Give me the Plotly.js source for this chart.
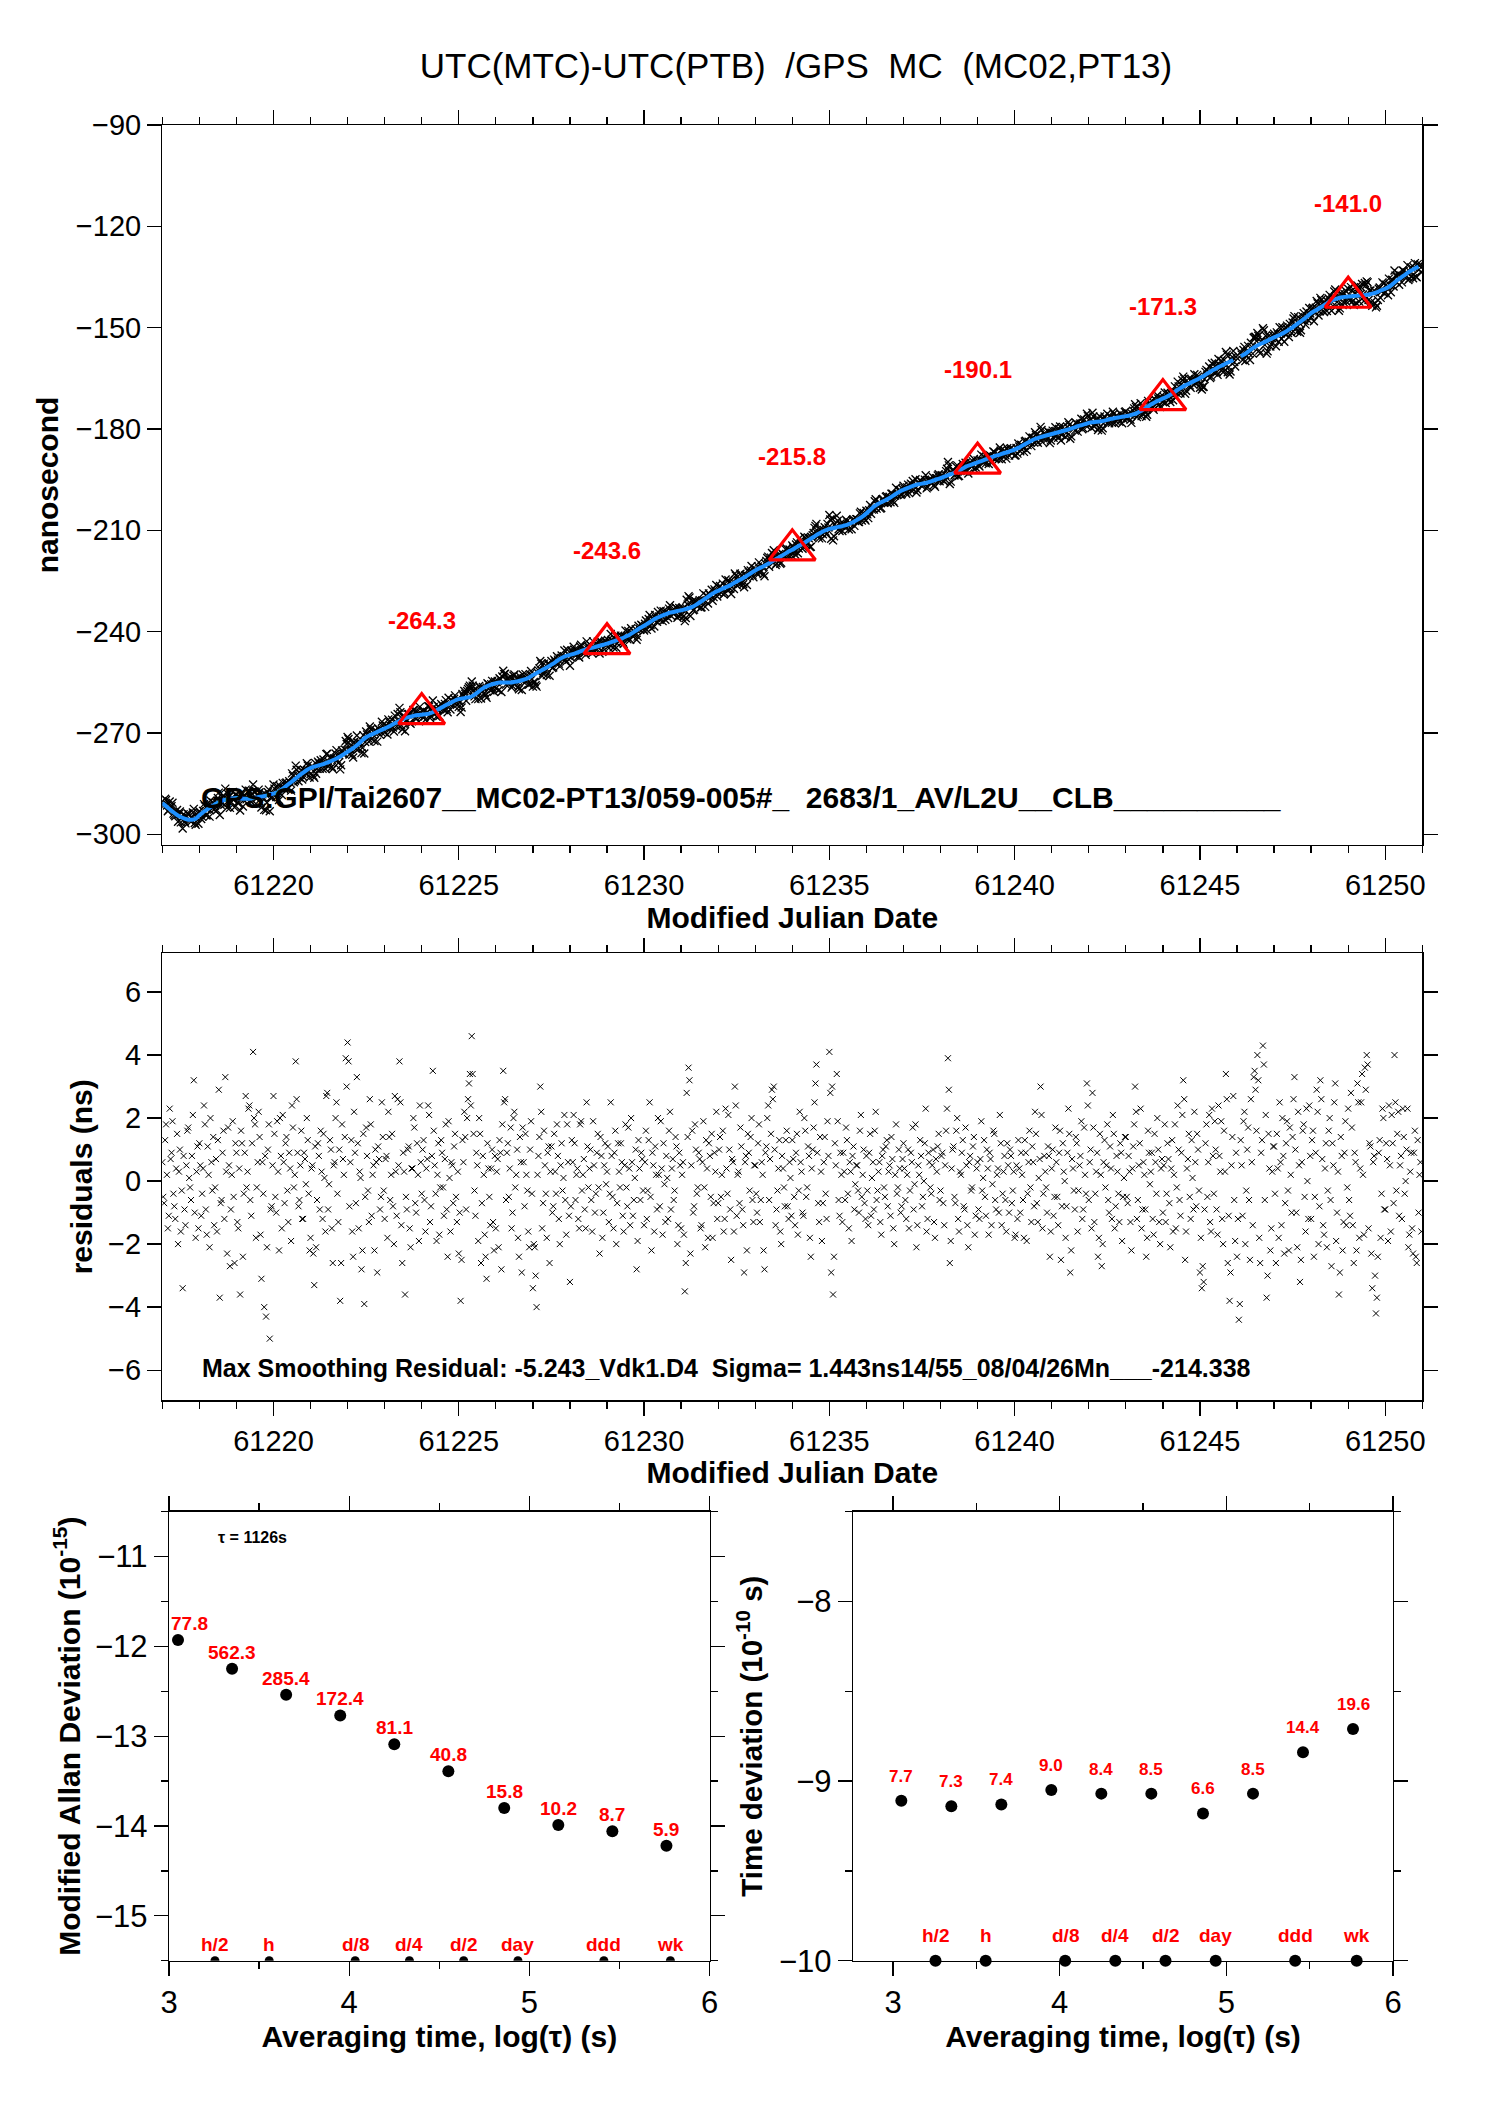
<!DOCTYPE html>
<html><head><meta charset="utf-8">
<script src="https://cdn.plot.ly/plotly-3.0.1.min.js"></script>
<style>html,body{margin:0;padding:0;background:#fff}#chart{width:1488px;height:2105px}</style>
</head><body><div id="chart"></div>
<script>
// ---------- data ----------
const MJD_START = 61217.0;     // first sample (MJD)
const SMOOTH_STEP = 0.1;       // spacing of the smoothed-curve samples (days)
const RESID_STEP = 0.05;       // spacing of the residual samples (days)

// smoothed UTC(MTC)-UTC(PTB) curve (ns), one row per day, 61217.0 .. 61250.9
const smoothNs = [
-290.8,-291.7,-292.6,-293.5,-294.3,-294.9,-295.4,-295.7,-295.7,-295.4,
-294.4,-293.5,-292.7,-292.0,-291.3,-290.6,-290.1,-289.8,-289.5,-289.4,
-289.3,-289.4,-289.5,-289.5,-289.4,-289.2,-289.0,-288.8,-288.6,-288.2,
-288.0,-287.7,-286.9,-286.1,-285.2,-284.4,-283.5,-282.6,-281.8,-281.0,
-280.4,-280.0,-279.7,-279.4,-279.0,-278.6,-278.1,-277.6,-277.0,-276.3,
-275.6,-274.9,-274.1,-273.2,-272.2,-271.3,-270.7,-270.2,-269.7,-269.2,
-268.7,-268.2,-267.6,-267.0,-266.4,-265.9,-265.5,-265.2,-264.9,-264.7,
-264.6,-264.5,-264.3,-263.9,-263.3,-262.7,-262.1,-261.5,-261.0,-260.4,
-260.0,-259.8,-259.6,-259.4,-258.9,-258.1,-257.2,-256.5,-256.0,-255.6,
-255.3,-255.1,-255.1,-255.1,-255.1,-254.9,-254.7,-254.4,-254.1,-253.6,
-252.9,-252.3,-251.7,-251.1,-250.5,-249.8,-249.1,-248.3,-247.7,-247.2,
-246.9,-246.6,-246.2,-245.8,-245.4,-245.0,-244.8,-244.5,-244.2,-243.9,
-243.6,-243.2,-242.8,-242.4,-242.0,-241.5,-241.0,-240.3,-239.6,-238.9,
-238.3,-237.6,-236.9,-236.2,-235.7,-235.2,-234.8,-234.4,-234.2,-233.9,
-233.7,-233.4,-233.1,-232.7,-232.1,-231.4,-230.6,-229.9,-229.1,-228.4,
-227.9,-227.4,-226.9,-226.4,-225.8,-225.2,-224.6,-224.0,-223.3,-222.6,
-221.9,-221.3,-220.8,-220.2,-219.6,-218.9,-218.3,-217.6,-217.0,-216.3,
-215.8,-215.1,-214.5,-213.9,-213.2,-212.5,-211.8,-211.1,-210.5,-210.0,
-209.6,-209.4,-209.1,-208.9,-208.6,-208.3,-207.8,-207.2,-206.6,-205.9,
-205.0,-204.0,-203.0,-202.3,-201.7,-201.2,-200.6,-199.9,-199.2,-198.5,
-198.0,-197.5,-197.1,-196.7,-196.4,-196.2,-196.0,-195.7,-195.3,-194.9,
-194.6,-194.1,-193.7,-193.3,-192.8,-192.3,-191.7,-191.1,-190.7,-190.3,
-189.9,-189.5,-189.1,-188.7,-188.3,-187.9,-187.6,-187.2,-186.9,-186.5,
-186.1,-185.6,-185.0,-184.4,-183.8,-183.2,-182.8,-182.4,-182.1,-181.8,
-181.5,-181.2,-180.9,-180.6,-180.3,-180.0,-179.6,-179.2,-178.9,-178.6,
-178.2,-178.0,-177.9,-177.8,-177.6,-177.3,-177.0,-176.8,-176.6,-176.4,
-176.2,-176.0,-175.7,-175.3,-174.7,-174.0,-173.3,-172.6,-172.0,-171.5,
-171.0,-170.5,-169.9,-169.2,-168.4,-167.7,-167.1,-166.6,-166.0,-165.5,
-164.9,-164.3,-163.6,-162.9,-162.3,-161.7,-161.2,-160.6,-160.1,-159.6,
null,-158.5,-157.9,-157.1,-156.3,-155.6,-155.0,-154.5,-154.0,-153.4,
-152.9,-152.4,-151.9,-151.3,-150.6,-149.9,-149.1,-148.3,-147.5,-146.6,
-145.7,-145.0,-144.4,-143.7,-143.0,-142.3,-141.8,-141.4,-141.1,-140.9,
-140.8,-140.7,-140.6,-140.5,-140.4,-140.3,-140.1,-139.8,-139.4,-138.9,
-138.5,-137.9,-137.1,-136.2,-135.4,-134.6,-133.8,-133.1,-132.5,-131.9
];

// residuals after smoothing (ns) at 61217.00, 61217.05 .. 61250.95 (one row per day)
const residNs = [
0.6,-0.7,1.8,-1.5,2.3,0.9,-0.4,-1.2,1.5,0.3,-1.6,-3.4,-0.9,0.5,1.7,-0.2,0.8,3.2,-1.8,1.1,
1.2,-1.1,0.4,1.8,-1.7,0.2,2.0,-0.3,-1.4,0.7,1.3,-3.7,-0.6,1.6,3.3,-2.3,0.5,-0.9,1.9,-2.6,
0.9,-1.5,-3.6,1.2,-0.4,2.7,0.3,2.4,-1.1,4.1,1.8,-0.2,2.2,-1.7,0.6,-4.0,-4.3,1.0,-5.0,-0.8,
2.7,-0.5,1.9,-2.2,0.8,2.1,-0.7,1.4,-1.3,0.4,2.4,-0.2,3.8,0.9,-0.6,1.6,-1.2,0.7,2.0,-0.4,
-1.8,0.5,-3.3,-2.1,1.2,-0.9,0.3,1.5,-1.6,2.8,-0.1,1.0,-2.6,0.6,2.5,-1.3,-3.8,1.8,0.2,3.9,
4.4,-0.8,1.3,-2.4,0.9,3.3,-1.5,0.1,-2.2,-3.9,1.7,-0.3,2.6,-1.1,0.5,1.0,-2.9,0.7,-0.5,1.4,
-1.2,0.8,2.2,-0.6,1.5,-2.0,0.3,2.6,3.8,-1.4,0.9,-3.6,-0.9,1.1,-2.1,0.4,1.7,-1.0,0.2,2.4,
-0.4,1.3,-1.6,0.7,2.1,-0.8,3.5,0.5,-1.9,1.2,-0.2,0.9,-1.1,1.8,-2.4,0.1,0.6,-0.7,1.5,-1.3,
-2.3,-3.8,1.3,2.2,-0.9,2.6,3.4,4.6,1.5,-1.1,0.5,2.0,-2.6,0.8,-1.7,-3.1,0.4,-1.4,1.0,-2.2,
-1.5,0.7,1.3,-2.8,3.5,2.6,0.9,-0.5,1.7,-1.0,2.2,0.2,-1.8,1.4,-2.9,0.6,1.5,-0.3,-2.1,1.9,
-3.4,-2.1,-4.0,0.8,3.0,-1.5,1.6,-0.4,0.9,-2.6,1.1,-0.8,0.3,1.8,-1.2,0.5,-0.3,2.1,-1.7,0.6,
-3.2,1.3,2.1,-0.6,0.4,-1.5,1.9,0.2,-0.9,2.5,-0.2,1.0,-1.6,0.5,-0.4,1.5,-2.3,0.8,-1.0,1.2,
0.3,-1.3,2.5,-0.5,0.9,-2.0,1.2,-0.2,0.6,-1.6,1.8,-0.8,0.4,2.0,-1.1,0.1,-2.8,1.3,-0.6,0.7,
-1.4,1.6,-0.3,2.5,-2.2,0.5,1.1,-0.9,0.2,1.9,-1.7,-0.1,0.8,-1.2,2.2,0.4,-0.6,1.4,-2.0,0.9,
-1.5,0.6,-3.5,2.8,3.6,-2.3,1.6,-0.8,1.0,-0.2,0.7,-1.4,1.9,-2.1,0.4,1.2,-0.5,-1.8,0.9,2.2,
-0.7,1.4,0.2,-1.6,2.3,-0.4,1.0,-2.5,0.6,3.0,-1.1,0.3,1.7,-0.9,-2.9,0.8,1.5,-0.3,2.0,-1.3,
0.5,-1.0,1.8,-0.6,0.2,-2.8,1.1,2.4,0.7,2.9,3.0,-1.4,-0.3,1.3,-2.0,0.4,-0.8,1.6,-1.2,0.1,
1.3,-0.5,0.9,-1.7,2.2,0.3,-1.1,1.6,-0.2,0.8,-2.4,1.0,2.5,3.7,-0.7,1.4,-1.9,0.6,-0.4,1.9,
4.1,-2.9,-3.6,1.2,3.4,-0.6,0.9,-1.3,0.3,1.7,-0.4,0.6,-1.9,1.1,-0.1,0.5,-1.0,2.1,0.2,-0.7,
0.8,-1.4,1.5,0.1,-0.9,2.2,-0.3,0.6,-1.7,1.0,-0.5,1.3,0.3,-1.1,0.7,-2.0,1.8,-0.2,0.4,-0.8,
1.2,-0.6,0.2,-1.5,0.9,1.7,-0.1,-2.1,0.5,1.3,-0.8,0.0,2.3,-1.2,0.6,-0.4,1.0,-1.8,0.3,1.5,
-0.3,0.9,-1.4,1.6,3.9,-2.6,0.4,1.1,-0.7,2.0,-1.6,0.2,1.3,-0.9,0.5,-2.1,0.8,-0.2,1.4,-1.1,
0.6,-1.2,1.9,0.1,-0.5,1.0,-1.7,0.7,-0.1,1.5,-0.9,0.4,2.1,-1.4,0.3,-0.6,1.2,-1.0,0.8,-0.3,
-1.8,0.5,1.3,-1.0,0.2,-1.8,0.9,-0.4,1.6,-1.3,0.6,2.2,-0.7,0.1,3.0,-1.5,0.8,-0.2,1.1,-2.4,
0.4,-1.1,1.7,-0.5,0.9,-2.5,1.2,0.0,-0.8,2.3,-2.9,0.7,-0.3,1.4,-1.6,0.5,1.9,-0.9,0.2,3.1,
-0.6,1.0,2.8,-1.3,0.3,-2.4,1.5,-2.7,0.6,-0.2,1.8,-1.0,0.4,2.1,-1.5,0.8,-0.4,1.2,-1.9,0.1,
1.4,-0.7,0.3,-2.2,1.1,3.0,-1.2,0.5,2.3,-0.9,0.2,-2.4,1.6,-0.1,0.9,-1.7,0.6,2.0,-1.3,0.4,
-1.0,1.8,-0.4,0.7,-2.1,1.3,0.2,-1.5,2.4,-0.6,0.9,3.2,-2.5,0.4,1.5,-1.2,0.1,2.2,-0.8,1.0,
-2.9,-3.4,-3.2,1.2,-0.5,2.1,-1.6,0.8,1.9,-0.9,2.4,0.3,-1.2,1.6,3.4,-2.6,-3.8,0.5,2.7,-1.9,
-2.4,-4.4,1.3,-1.1,2.2,-0.3,1.7,-2.5,0.6,3.3,2.9,4.0,-1.8,0.9,4.3,-0.6,-3.7,1.5,-2.2,0.3,
1.1,-2.6,0.4,2.5,-1.4,0.8,-0.7,1.9,-2.2,0.2,1.4,3.3,-1.0,2.2,-3.2,0.6,1.8,-1.6,0.0,2.4,
-1.2,1.6,-0.5,2.9,-2.0,3.2,0.7,-1.7,1.2,-0.3,2.0,-2.7,0.5,3.1,-1.0,-3.6,1.4,-2.2,0.9,-1.4,
2.3,-1.1,1.7,-2.6,0.6,3.1,-1.8,2.5,0.2,3.6,4.0,-1.5,1.1,-3.4,0.8,-4.2,-2.4,1.3,-0.4,2.0,
-0.9,0.7,2.4,-1.6,1.2,4.0,-0.3,2.2,0.5,-1.2,1.4,0.0,2.3,-1.7,0.9,-2.3,1.6,-2.6,-1.0,0.6
];

// residuals (ns) at the in-between epochs 61217.025, 61217.075 .. 61250.975 (one row per day)
const residMidNs = [
-0.5,1.3,0.2,-1.1,0.7,1.9,-0.8,0.4,-2.0,1.0,-0.3,0.8,-1.4,1.6,0.1,-0.6,2.1,-1.0,0.3,-1.5,
0.5,-0.4,2.4,-0.9,1.1,-2.1,0.6,1.4,-0.2,-1.6,2.9,-0.7,0.9,-1.2,0.3,1.7,-2.7,0.2,-0.5,1.2,
-1.3,0.4,1.6,-2.4,0.9,-0.2,2.3,-0.6,1.2,2.0,-1.8,0.6,1.4,-3.1,-0.4,0.8,-2.1,1.8,-0.9,0.5,
1.5,-1.0,0.3,2.0,-1.5,0.6,1.2,-0.3,0.9,-1.9,1.7,0.2,2.6,-0.8,0.5,-1.2,0.9,-0.1,1.3,-2.2,
0.4,-2.3,1.1,-0.6,0.8,1.6,-1.2,0.1,2.7,-0.9,1.3,-1.5,0.5,2.0,-0.4,1.0,-2.6,0.7,1.4,3.0,
3.8,0.6,-1.6,2.2,-0.7,1.2,0.3,-2.8,1.5,-0.5,0.8,-1.3,1.8,0.2,-2.2,0.6,1.1,-0.9,2.5,-0.3,
0.7,-1.8,1.4,0.2,-0.8,2.7,-1.1,0.5,2.5,-2.6,0.3,-0.5,1.0,-1.5,0.4,2.0,-0.7,1.2,-1.9,0.6,
1.0,-0.6,0.4,2.4,-1.3,0.8,1.6,-0.4,0.2,-1.7,1.3,-0.2,0.7,-0.9,1.9,-1.6,0.5,1.1,-0.5,0.3,
-1.0,-2.5,0.6,1.4,2.0,3.1,2.4,3.4,-0.3,0.9,-1.9,1.5,-0.7,0.2,-2.4,1.2,-0.5,0.4,-1.3,0.8,
0.3,-2.1,0.9,1.8,2.5,-0.6,1.2,0.4,-1.5,2.0,-0.2,1.0,-2.4,0.6,1.7,-0.8,0.2,-1.6,1.0,-0.4,
-2.0,-3.0,0.2,1.4,2.2,-0.7,0.5,-1.8,1.1,0.3,-1.0,1.5,-0.4,0.8,-2.0,1.2,0.1,-0.6,1.8,-1.1,
-0.8,0.6,1.2,0.2,-1.2,1.8,-0.3,0.7,-1.5,1.1,0.4,-0.6,1.9,-1.0,0.9,-0.2,1.4,-1.8,0.5,-0.1,
1.1,-0.4,0.8,-1.5,1.6,-0.7,0.3,1.2,-1.1,0.5,-0.2,1.7,-1.4,0.6,-0.6,1.0,-1.9,0.4,0.9,-0.3,
0.6,-1.2,1.3,-0.5,0.9,-1.6,0.2,2.0,-0.8,0.4,1.2,-1.3,0.1,1.6,-0.9,0.7,-0.3,1.1,-1.4,0.5,
0.2,-1.7,-2.6,1.4,3.2,0.5,-1.0,1.8,-0.4,0.9,-1.5,0.6,-0.2,1.3,-1.8,0.8,1.5,-0.7,0.3,-1.2,
1.0,-0.5,1.6,-1.2,0.4,2.1,-0.9,0.7,-1.6,2.4,0.2,-0.7,1.1,-1.4,0.6,-2.2,0.9,1.4,-0.6,0.5,
-0.4,1.2,-1.3,0.6,-2.2,0.9,2.0,-0.6,1.5,2.6,1.0,-0.9,0.4,-1.6,0.8,-0.2,1.3,-0.8,0.6,-1.1,
0.7,-1.4,1.5,-0.3,0.6,-1.0,2.0,-0.5,1.1,-1.8,0.4,1.7,3.1,0.9,-1.3,0.3,-0.7,1.4,-1.2,0.8,
2.8,3.0,-2.4,0.5,1.9,-1.1,0.2,0.9,-0.6,1.3,-1.5,0.3,0.8,-0.9,0.5,-0.3,1.6,-0.5,1.0,-1.2,
-0.3,0.9,-1.1,0.6,1.6,-0.6,0.3,-1.3,0.8,-0.2,1.1,-0.8,0.5,1.4,-1.5,0.2,-0.4,1.0,-1.0,0.7,
0.4,-1.2,1.0,-0.3,0.6,-0.9,1.8,-1.4,0.2,0.8,-0.5,1.2,-1.6,0.9,-0.2,0.5,-1.3,0.7,1.1,-0.6,
0.8,-0.7,0.5,2.3,2.9,-1.9,1.0,-0.5,1.6,-1.2,0.3,0.9,-0.8,1.7,-1.4,0.6,-0.3,1.1,-1.7,0.4,
-0.9,0.7,-0.3,1.3,-1.1,0.4,0.9,-1.4,1.6,-0.6,0.2,-1.0,1.2,-0.4,0.8,-1.6,0.5,1.0,-0.7,0.3,
-1.7,-1.2,0.4,0.9,-0.6,1.3,-1.9,0.6,-0.2,1.1,-0.8,1.5,-1.3,0.7,2.1,-0.4,0.3,-1.0,0.8,-1.6,
1.0,-0.5,0.6,-1.4,1.6,-0.8,0.3,-1.8,0.9,1.5,-2.2,0.4,-0.9,1.2,-0.3,0.8,-1.2,1.7,-0.4,2.4,
0.6,-1.5,1.7,-0.4,0.9,-1.8,0.2,-2.0,1.3,0.5,-0.6,1.1,-1.2,1.5,-0.8,0.3,-1.3,0.9,-0.5,1.4,
-0.5,0.8,-1.3,0.4,1.8,2.2,-0.6,1.2,-1.5,0.6,-0.9,-1.8,0.9,0.3,-1.2,1.5,-0.4,1.0,-2.0,0.7,
0.5,-1.3,1.2,-0.7,0.4,-1.6,1.8,-0.2,1.0,-1.1,2.1,2.6,-1.6,0.7,-0.5,1.3,-0.9,0.6,1.5,-0.3,
-1.8,-2.7,-0.9,1.8,0.6,-1.3,2.3,-0.4,1.0,-1.7,0.8,1.9,-2.0,0.3,2.6,-1.1,-2.9,1.4,-0.6,0.9,
-1.2,-3.9,0.5,1.9,-2.0,1.0,-0.6,2.6,-1.4,3.5,1.6,3.2,-2.6,1.3,3.7,2.1,-3.0,0.4,-1.5,1.1,
-0.4,1.5,-1.8,0.6,2.0,-2.3,1.2,-0.3,1.7,-1.0,2.6,1.0,-2.1,0.5,-2.5,1.6,-0.5,2.3,-1.2,0.8,
1.3,-2.4,0.9,2.2,-0.8,2.6,-1.4,0.4,-2.1,1.6,-0.6,1.2,2.5,-1.9,0.3,-2.9,0.8,-1.3,1.9,-0.2,
-0.6,2.8,-1.4,0.9,-2.2,2.5,0.4,3.4,-1.7,2.9,3.7,1.2,-2.3,0.6,-3.0,-3.7,0.9,-1.8,2.3,-0.9,
1.2,-1.9,0.5,2.1,-0.7,2.5,1.5,-1.1,0.8,2.3,-0.4,1.0,-2.1,0.3,-1.5,0.9,-2.4,1.3,0.2,-1.6
];

// marked values on the top panel
const markMjd = [61224, 61229, 61234, 61239, 61244, 61249];
const markNs  = [-264.3, -243.6, -215.8, -190.1, -171.3, -141.0];

// stability panels
const logTau       = [3.05, 3.35, 3.65, 3.95, 4.25, 4.55, 4.86, 5.16, 5.46, 5.76];
const modAdevLog   = [-11.93, -12.25, -12.54, -12.77, -13.09, -13.39, -13.80, -13.99, -14.06, -14.22];
const modAdevText  = ['77.8', '562.3', '285.4', '172.4', '81.1', '40.8', '15.8', '10.2', '8.7', '5.9'];
const tdevLog      = [-9.11, -9.14, -9.13, -9.05, -9.07, -9.07, -9.18, -9.07, -8.84, -8.71];
const tdevText     = ['7.7', '7.3', '7.4', '9.0', '8.4', '8.5', '6.6', '8.5', '14.4', '19.6'];
const spanLogTau   = [3.255, 3.556, 4.033, 4.334, 4.635, 4.936, 5.413, 5.782];
const spanText     = ['h/2', 'h', 'd/8', 'd/4', 'd/2', 'day', 'ddd', 'wk'];

const titleText   = 'UTC(MTC)-UTC(PTB)\u00a0\u00a0/GPS\u00a0\u00a0MC\u00a0\u00a0(MC02,PT13)';
const infoTop     = 'GPS:GPI/Tai2607__MC02-PT13/059-005#_\u00a0\u00a02683/1_AV/L2U__CLB__________';
const infoResid   = 'Max Smoothing Residual: -5.243_Vdk1.D4\u00a0\u00a0Sigma= 1.443ns14/55_08/04/26Mn___-214.338';
const tauNote     = '\u03c4 = 1126s';

// ---------- derived tables ----------
// measured offsets = smoothed curve + residual; each residual epoch is paired with the
// smoothed-curve sample of the same 0.1-day slot
const residMjd = [], residAll = [];
residNs.forEach((r, k) => { residMjd.push(MJD_START + k * RESID_STEP); residAll.push(r); });
residMidNs.forEach((r, k) => { residMjd.push(MJD_START + (k + 0.5) * RESID_STEP); residAll.push(r); });
const offX = [], offY = [];
residMjd.forEach((t, k) => {
  const slot = Math.min(smoothNs.length - 1, Math.floor((t - MJD_START) / SMOOTH_STEP + 1e-9));
  const s = smoothNs[slot];
  if (s !== null) { offX.push(t); offY.push(+(s + residAll[k]).toFixed(2)); }
});

// ---------- styling ----------
const FONT = 'Liberation Sans, Arial, Helvetica, sans-serif';
const W = 1488, H = 2105;
const px = v => v / W;
const py = v => 1 - v / H;
const RED = '#ff0000';

function axisBase(extra) {
  return Object.assign({
    showline: true, linecolor: '#000', linewidth: 1.3, mirror: 'ticks',
    ticks: 'outside', ticklen: 14, tickwidth: 1.3, tickcolor: '#000',
    showgrid: false, zeroline: false,
    tickfont: {family: FONT, size: 29, color: '#000'}
  }, extra);
}
const titleFont = s => ({family: FONT, size: s, color: '#000', weight: 'bold'});
const minorX = d => ({dtick: d, ticklen: 7, tickwidth: 1.3, ticks: 'outside', tickcolor: '#000', showgrid: false});
const smallTickFont = {family: FONT, size: 31, color: '#000'};

const traces = [
  // top panel
  {type: 'scatter', mode: 'markers', xaxis: 'x', yaxis: 'y', x: offX, y: offY,
   marker: {symbol: 'x-thin', size: 8, line: {width: 1.3, color: '#000'}, color: '#000'}, hoverinfo: 'skip'},
  {type: 'scatter', mode: 'lines', xaxis: 'x', yaxis: 'y', x0: MJD_START, dx: SMOOTH_STEP, y: smoothNs,
   line: {color: '#1e90ff', width: 4, shape: 'spline', smoothing: 0.6}, connectgaps: false, hoverinfo: 'skip'},
  {type: 'scatter', mode: 'markers', xaxis: 'x', yaxis: 'y', x: markMjd, y: markNs,
   marker: {symbol: 'triangle-up-open', size: 40, line: {width: 3.2, color: RED}, color: RED}, hoverinfo: 'skip'},
  // residual panel
  {type: 'scatter', mode: 'markers', xaxis: 'x2', yaxis: 'y2', x: residMjd, y: residAll,
   marker: {symbol: 'x-thin', size: 6, line: {width: 1, color: '#000'}, color: '#000'}, hoverinfo: 'skip'},
  // modified Allan deviation
  {type: 'scatter', mode: 'markers', xaxis: 'x3', yaxis: 'y3', x: logTau, y: modAdevLog,
   marker: {symbol: 'circle', size: 12, color: '#000'}, hoverinfo: 'skip'},
  {type: 'scatter', mode: 'markers', xaxis: 'x3', yaxis: 'y3', x: spanLogTau, y: spanLogTau.map(() => -15.5),
   marker: {symbol: 'circle', size: 9, color: '#000'}, cliponaxis: true, hoverinfo: 'skip'},
  // time deviation
  {type: 'scatter', mode: 'markers', xaxis: 'x4', yaxis: 'y4', x: logTau, y: tdevLog,
   marker: {symbol: 'circle', size: 12, color: '#000'}, hoverinfo: 'skip'},
  {type: 'scatter', mode: 'markers', xaxis: 'x4', yaxis: 'y4', x: spanLogTau, y: spanLogTau.map(() => -10),
   marker: {symbol: 'circle', size: 12, color: '#000'}, cliponaxis: false, hoverinfo: 'skip'}
];

const annotations = [];
markMjd.forEach((m, i) => annotations.push({
  xref: 'x', yref: 'y', x: m, y: markNs[i], text: markNs[i].toFixed(1), showarrow: false,
  yanchor: 'bottom', yshift: 78, font: {family: FONT, size: 24, color: RED, weight: 'bold'}
}));
logTau.forEach((t, i) => annotations.push({
  xref: 'x3', yref: 'y3', x: t, y: modAdevLog[i], text: modAdevText[i], showarrow: false,
  xanchor: i === 0 ? 'left' : 'center', xshift: i === 0 ? -9 : 0,
  yanchor: 'bottom', yshift: 4, font: {family: FONT, size: 19, color: RED, weight: 'bold'}
}));
logTau.forEach((t, i) => annotations.push({
  xref: 'x4', yref: 'y4', x: t, y: tdevLog[i], text: tdevText[i], showarrow: false,
  yanchor: 'bottom', yshift: 13, font: {family: FONT, size: 17, color: RED, weight: 'bold'}
}));
spanLogTau.forEach((t, i) => {
  annotations.push({xref: 'x3', yref: 'y3', x: t, y: -15.5, text: spanText[i], showarrow: false,
    yanchor: 'bottom', yshift: 4, font: {family: FONT, size: 19, color: RED, weight: 'bold'}});
  annotations.push({xref: 'x4', yref: 'y4', x: t, y: -10, text: spanText[i], showarrow: false,
    yanchor: 'bottom', yshift: 13, font: {family: FONT, size: 19, color: RED, weight: 'bold'}});
});
annotations.push({xref: 'paper', yref: 'paper', x: px(199), y: py(816), xanchor: 'left', yanchor: 'bottom',
  text: infoTop, showarrow: false, font: {family: FONT, size: 30, color: '#000', weight: 'bold'}});
annotations.push({xref: 'paper', yref: 'paper', x: px(200), y: py(1384), xanchor: 'left', yanchor: 'bottom',
  text: infoResid, showarrow: false, font: {family: FONT, size: 25, color: '#000', weight: 'bold'}});
annotations.push({xref: 'paper', yref: 'paper', x: px(253), y: py(1537), xanchor: 'center', yanchor: 'middle',
  text: tauNote, showarrow: false, font: {family: FONT, size: 16, color: '#000', weight: 'bold'}});

const mjdDomain = [px(162.3), px(1422.3)];
const layout = {
  width: W, height: H, margin: {l: 0, r: 0, t: 0, b: 0},
  paper_bgcolor: '#fff', plot_bgcolor: '#fff', showlegend: false, hovermode: false,
  font: {family: FONT, color: '#000'},
  title: {text: titleText, font: {family: FONT, size: 35, color: '#000'},
          xref: 'paper', yref: 'paper', x: px(796), y: py(66), xanchor: 'center', yanchor: 'middle'},
  xaxis: axisBase({domain: mjdDomain, anchor: 'y', range: [61217, 61251], tick0: 61220, dtick: 5,
    tickformat: 'd', minor: minorX(1),
    title: {text: 'Modified Julian Date', font: titleFont(30), standoff: 0}}),
  yaxis: axisBase({domain: [py(845), py(125)], anchor: 'x', range: [-303.2, -90], tick0: -90, dtick: 30,
    title: {text: 'nanosecond', font: titleFont(30), standoff: 8}}),
  xaxis2: axisBase({domain: mjdDomain, anchor: 'y2', range: [61217, 61251], tick0: 61220, dtick: 5,
    tickformat: 'd', minor: minorX(1),
    title: {text: 'Modified Julian Date', font: titleFont(30), standoff: 0}}),
  yaxis2: axisBase({domain: [py(1400.4), py(953.3)], anchor: 'x2', range: [-6.96, 7.23], tick0: 0, dtick: 2,
    title: {text: 'residuals (ns)', font: titleFont(30), standoff: 6}}),
  xaxis3: axisBase({domain: [px(169), px(709.7)], anchor: 'y3', range: [3, 6], tick0: 3, dtick: 1,
    minor: minorX(0.5), tickfont: smallTickFont,
    title: {text: 'Averaging time, log(\u03c4) (s)', font: titleFont(30), standoff: 0}}),
  yaxis3: axisBase({domain: [py(1960.7), py(1511.6)], anchor: 'x3', range: [-15.5, -10.5], tick0: -15, dtick: 1,
    minor: minorX(0.5), tickfont: smallTickFont,
    title: {text: 'Modified Allan Deviation (10<sup>-15</sup>)', font: titleFont(30), standoff: 5}}),
  xaxis4: axisBase({domain: [px(853), px(1393)], anchor: 'y4', range: [2.76, 6], tick0: 3, dtick: 1,
    minor: minorX(0.5), tickfont: smallTickFont,
    title: {text: 'Averaging time, log(\u03c4) (s)', font: titleFont(30), standoff: 0}}),
  yaxis4: axisBase({domain: [py(1960.7), py(1511.6)], anchor: 'x4', range: [-10, -7.5], tick0: -10, dtick: 1,
    minor: minorX(0.5), tickfont: smallTickFont,
    title: {text: 'Time deviation (10<sup>-10</sup> s)', font: titleFont(29.5), standoff: 7}}),
  annotations: annotations
};

Plotly.newPlot('chart', traces, layout, {staticPlot: true, displayModeBar: false});
</script>
</body></html>
